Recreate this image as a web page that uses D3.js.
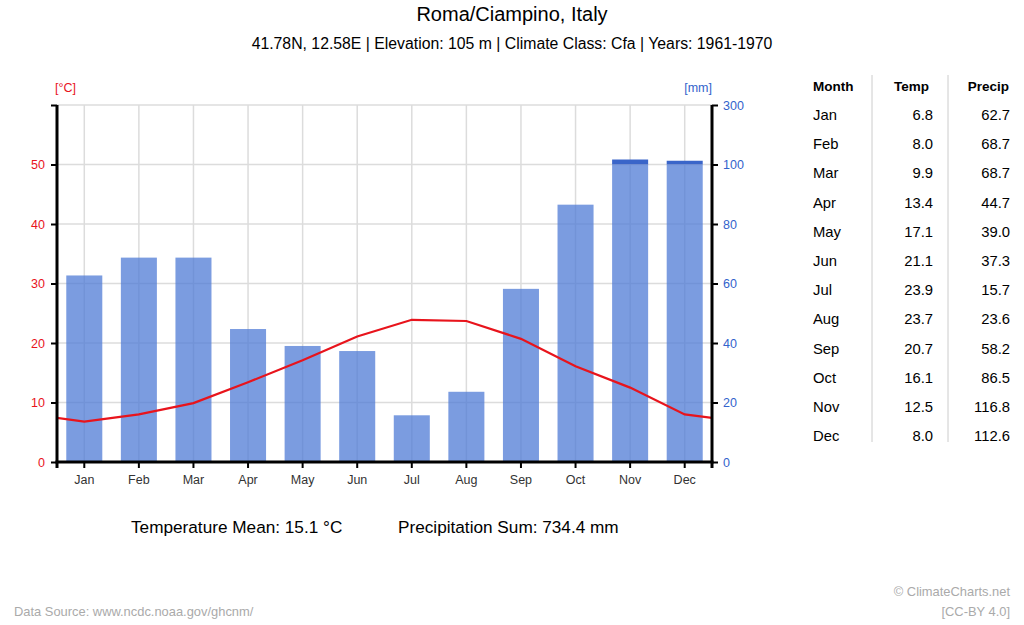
<!DOCTYPE html>
<html>
<meta charset="utf-8" />
<script src="https://d3js.org/d3.v7.min.js"></script>

<body>

    <style>
        body,
        html {
            margin: 0;
            padding: 0;
            width: 100%;
            height: 100%;
            overflow: hidden;
            background: #fff;
        }

        svg {
            font-family: "Liberation Sans", Arial, sans-serif;
        }

        .grid line {
            stroke: #dcdcdc;
            stroke-width: 1.5;
        }
    </style>

    <svg id="chart"></svg>

    <script>
        var months = ["Jan", "Feb", "Mar", "Apr", "May", "Jun", "Jul", "Aug", "Sep", "Oct", "Nov", "Dec"];
        var temps = [6.8, 8.0, 9.9, 13.4, 17.1, 21.1, 23.9, 23.7, 20.7, 16.1, 12.5, 8.0];
        var precips = [62.7, 68.7, 68.7, 44.7, 39.0, 37.3, 15.7, 23.6, 58.2, 86.5, 116.8, 112.6];
        var tempTicks = [0, 10, 20, 30, 40, 50];
        var precipTicks = [0, 20, 40, 60, 80, 100, 300];
        // as printed on the chart (computed there from unrounded monthly values)
        var tempMean = "15.1";
        var precipSum = "734.4";

        var width = 1024;
        var height = 625;
        var plot = { left: 57, right: 712, top: 105, bottom: 462 };

        var svg = d3.select("#chart")
            .attr("width", width)
            .attr("height", height);

        var x = d3.scaleBand()
            .domain(months)
            .range([plot.left, plot.right])
            .paddingInner(0.34)
            .paddingOuter(0.17);

        var step = x.step();
        function cx(m) { return x(m) + x.bandwidth() / 2; }

        var yT = d3.scaleLinear().domain([0, 60]).range([plot.bottom, plot.top]);
        // precipitation scale is compressed above 100 mm
        var yP = d3.scaleLinear().domain([0, 100, 300]).range([plot.bottom, yT(50), plot.top]);

        // title
        svg.append("text")
            .attr("x", 512).attr("y", 21)
            .attr("text-anchor", "middle")
            .attr("font-size", 20).attr("fill", "#000")
            .text("Roma/Ciampino, Italy");

        svg.append("text")
            .attr("x", 512).attr("y", 49)
            .attr("text-anchor", "middle")
            .attr("font-size", 15.8).attr("fill", "#000")
            .text("41.78N, 12.58E | Elevation: 105 m | Climate Class: Cfa | Years: 1961-1970");

        // grid
        var grid = svg.append("g").attr("class", "grid");
        grid.selectAll(".hgrid")
            .data(tempTicks.concat([60]))
            .enter().append("line")
            .attr("x1", plot.left).attr("x2", plot.right)
            .attr("y1", function (d) { return yT(d); })
            .attr("y2", function (d) { return yT(d); });
        grid.selectAll(".vgrid")
            .data(months)
            .enter().append("line")
            .attr("x1", cx).attr("x2", cx)
            .attr("y1", plot.top).attr("y2", plot.bottom);

        // precipitation bars
        var bars = svg.append("g");
        bars.selectAll(".bar")
            .data(months)
            .enter().append("rect")
            .attr("class", "bar")
            .attr("x", function (d) { return x(d); })
            .attr("width", x.bandwidth())
            .attr("y", function (d, i) { return yP(Math.min(precips[i], 100)); })
            .attr("height", function (d, i) { return plot.bottom - yP(Math.min(precips[i], 100)); })
            .attr("fill", "rgb(79,123,214)")
            .attr("fill-opacity", 0.75);

        bars.selectAll(".bar-high")
            .data(months.filter(function (d, i) { return precips[i] > 100; }))
            .enter().append("rect")
            .attr("class", "bar-high")
            .attr("x", function (d) { return x(d); })
            .attr("width", x.bandwidth())
            .attr("y", function (d) { return yP(precips[months.indexOf(d)]); })
            .attr("height", function (d) { return yP(100) - yP(precips[months.indexOf(d)]); })
            .attr("fill", "#3a65c9");

        // temperature line, wrapped around the year and clipped to the plot
        svg.append("clipPath").attr("id", "plot-clip")
            .append("rect")
            .attr("x", plot.left).attr("y", plot.top)
            .attr("width", plot.right - plot.left).attr("height", plot.bottom - plot.top);

        var linePts = [[cx(months[0]) - step, temps[11]]]
            .concat(months.map(function (m, i) { return [cx(m), temps[i]]; }))
            .concat([[cx(months[11]) + step, temps[0]]]);

        svg.append("path")
            .datum(linePts)
            .attr("clip-path", "url(#plot-clip)")
            .attr("fill", "none")
            .attr("stroke", "#e8141c")
            .attr("stroke-width", 2.2)
            .attr("d", d3.line()
                .x(function (d) { return d[0]; })
                .y(function (d) { return yT(d[1]); }));

        // axes
        var leftAxis = svg.append("g")
            .attr("transform", "translate(" + plot.left + ",0)")
            .call(d3.axisLeft(yT).tickValues(tempTicks.concat([60])).tickSize(6).tickPadding(6)
                .tickFormat(function (d) { return d === 60 ? "" : d; }));
        leftAxis.selectAll("text").attr("fill", "#e8141c").attr("font-size", 12.5)
            .attr("font-family", "Liberation Sans, Arial, sans-serif");

        var rightAxis = svg.append("g")
            .attr("transform", "translate(" + plot.right + ",0)")
            .call(d3.axisRight(yP).tickValues(precipTicks).tickSize(6).tickPadding(5));
        rightAxis.selectAll("text").attr("fill", "#3363cc").attr("font-size", 12.5)
            .attr("font-family", "Liberation Sans, Arial, sans-serif");

        var bottomAxis = svg.append("g")
            .attr("transform", "translate(0," + plot.bottom + ")")
            .call(d3.axisBottom(x).tickSize(6).tickPadding(7).tickSizeOuter(0));
        bottomAxis.selectAll("text").attr("fill", "#333").attr("font-size", 12.5)
            .attr("font-family", "Liberation Sans, Arial, sans-serif");
        // corner ticks at the axis ends
        bottomAxis.selectAll(".end-tick")
            .data([plot.left, plot.right])
            .enter().append("line")
            .attr("x1", function (d) { return d; }).attr("x2", function (d) { return d; })
            .attr("y1", 0).attr("y2", 6)
            .attr("stroke", "#000").attr("stroke-width", 3);

        [leftAxis, rightAxis, bottomAxis].forEach(function (a) {
            a.select(".domain").attr("stroke", "#000").attr("stroke-width", 3);
            a.selectAll(".tick line").attr("stroke", "#000").attr("stroke-width", 2);
        });
        bottomAxis.select(".domain").attr("d", "M" + (plot.left - 1.5) + ",0H" + (plot.right + 1.5));
        leftAxis.select(".domain").attr("d", "M0," + plot.top + "V" + plot.bottom);
        rightAxis.select(".domain").attr("d", "M0," + plot.top + "V" + plot.bottom);

        svg.append("text")
            .attr("x", 55).attr("y", 92)
            .attr("font-size", 12.5).attr("fill", "#e8141c")
            .text("[°C]");
        svg.append("text")
            .attr("x", 712).attr("y", 92)
            .attr("text-anchor", "end")
            .attr("font-size", 12.5).attr("fill", "#3363cc")
            .text("[mm]");

        // summary
        svg.append("text")
            .attr("x", 131).attr("y", 533)
            .attr("font-size", 17.2).attr("fill", "#000")
            .text("Temperature Mean: " + tempMean + " °C");
        svg.append("text")
            .attr("x", 398).attr("y", 533)
            .attr("font-size", 17.2).attr("fill", "#000")
            .text("Precipitation Sum: " + precipSum + " mm");

        // footer
        svg.append("text")
            .attr("x", 14).attr("y", 616)
            .attr("font-size", 12.9).attr("fill", "#aaa")
            .text("Data Source: www.ncdc.noaa.gov/ghcnm/");
        svg.append("text")
            .attr("x", 1010).attr("y", 596)
            .attr("text-anchor", "end")
            .attr("font-size", 12.9).attr("fill", "#aaa")
            .text("© ClimateCharts.net");
        svg.append("text")
            .attr("x", 1010).attr("y", 616)
            .attr("text-anchor", "end")
            .attr("font-size", 12.9).attr("fill", "#aaa")
            .text("[CC-BY 4.0]");

        // table
        var table = svg.append("g");
        var rowY = d3.scaleLinear().domain([0, 1]).range([120, 149.2]);
        table.selectAll(".sep")
            .data([872, 948])
            .enter().append("line")
            .attr("x1", function (d) { return d; }).attr("x2", function (d) { return d; })
            .attr("y1", 75).attr("y2", 442)
            .attr("stroke", "#ccc").attr("stroke-width", 1);

        var headers = [["Month", 813, "start"], ["Temp", 929, "end"], ["Precip", 1009, "end"]];
        table.selectAll(".head")
            .data(headers)
            .enter().append("text")
            .attr("x", function (d) { return d[1]; })
            .attr("y", 91)
            .attr("text-anchor", function (d) { return d[2]; })
            .attr("font-size", 13.5).attr("font-weight", "bold").attr("fill", "#000")
            .text(function (d) { return d[0]; });

        var rows = table.selectAll(".row")
            .data(months)
            .enter().append("g")
            .attr("transform", function (d, i) { return "translate(0," + rowY(i) + ")"; });
        rows.append("text").attr("x", 813).attr("font-size", 14.8).attr("fill", "#000")
            .text(function (d) { return d; });
        rows.append("text").attr("x", 933).attr("text-anchor", "end").attr("font-size", 14.8).attr("fill", "#000")
            .text(function (d, i) { return temps[i].toFixed(1); });
        rows.append("text").attr("x", 1010).attr("text-anchor", "end").attr("font-size", 14.8).attr("fill", "#000")
            .text(function (d, i) { return precips[i].toFixed(1); });
    </script>

</body>

</html>
